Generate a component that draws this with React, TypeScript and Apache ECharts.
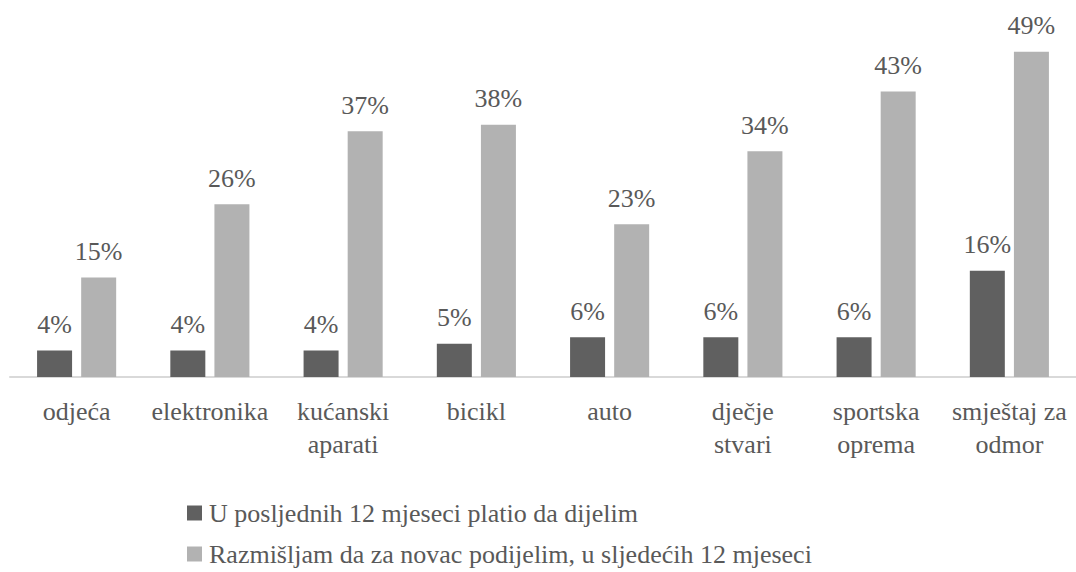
import React, { useEffect, useRef } from "react";
import * as echarts from "echarts";

const categories = [
  "odjeća",
  "elektronika",
  "kućanski\naparati",
  "bicikl",
  "auto",
  "dječje\nstvari",
  "sportska\noprema",
  "smještaj za\nodmor",
];
const seriesNames = [
  "U posljednih 12 mjeseci platio da dijelim",
  "Razmišljam da za novac podijelim, u sljedećih 12 mjeseci",
];
const paidValues = [4, 4, 4, 5, 6, 6, 6, 16];
const consideringValues = [15, 26, 37, 38, 23, 34, 43, 49];

const FONT = "Liberation Serif";
const TEXT = "#595959";
const FS = 26;

const CSS = `.serif-chart text, .serif-chart tspan { font-family: "Liberation Serif", "Times New Roman", serif !important; }`;

export default function App() {
  const ref = useRef<HTMLDivElement>(null);
  useEffect(() => {
    document.body.style.margin = "0";
    const chart = echarts.init(ref.current!, null, { renderer: "svg" });
    const label = {
      show: true,
      position: "top",
      distance: 13,
      formatter: "{c}%",
      fontFamily: FONT,
      fontSize: FS,
      color: TEXT,
    };
    const legendText = { fontFamily: FONT, fontSize: FS, color: TEXT, padding: [0, 0, 0, 2] };
    chart.setOption({
      animation: false,
      textStyle: { fontFamily: FONT, fontSize: FS },
      grid: { left: 10, right: 0, top: 45, bottom: 195, containLabel: false },
      legend: [
        {
          orient: "horizontal",
          left: 187,
          top: 500,
          padding: 0,
          itemWidth: 15,
          itemHeight: 15,
          icon: "rect",
          textStyle: legendText,
          data: [seriesNames[0]],
        },
        {
          orient: "horizontal",
          left: 187,
          top: 541,
          padding: 0,
          itemWidth: 15,
          itemHeight: 15,
          icon: "rect",
          textStyle: legendText,
          data: [seriesNames[1]],
        },
      ],
      xAxis: {
        type: "category",
        data: categories,
        axisLine: { lineStyle: { color: "#d9d9d9", width: 2 } },
        axisTick: { show: false },
        axisLabel: {
          fontFamily: FONT,
          fontSize: FS,
          color: TEXT,
          margin: 18,
          lineHeight: 33,
          interval: 0,
        },
      },
      yAxis: {
        type: "value",
        min: 0,
        max: 50,
        show: false,
        splitLine: { show: false },
      },
      series: [
        {
          name: seriesNames[0],
          type: "bar",
          data: paidValues,
          barWidth: 35,
          barGap: "26%",
          itemStyle: { color: "#606060" },
          label,
        },
        {
          name: seriesNames[1],
          type: "bar",
          data: consideringValues,
          barWidth: 35,
          itemStyle: { color: "#b2b2b2" },
          label,
        },
      ],
    });

    const applySerif = () => {
      try {
        const zr: any = chart.getZr();
        const list: any[] = zr.storage.getDisplayList(true);
        let changed = false;
        list.forEach((el: any) => {
          if (el && el.type === "tspan" && el.style) {
            const f: string = el.style.font || "";
            if (f.indexOf(FONT) === -1 || f.indexOf("sans") !== -1) {
              const m = f.match(/(\d+(\.\d+)?)px/);
              const size = m ? m[1] : String(FS);
              el.style.font = size + "px " + FONT;
              el.markRedraw && el.markRedraw();
              changed = true;
            }
          }
        });
        if (changed) zr.refresh();
      } catch (e) {
        // ignore
      }
      ref.current?.querySelectorAll("text, tspan").forEach((t) => {
        const el = t as SVGElement;
        el.setAttribute("font-family", FONT);
        el.style.setProperty("font-family", FONT, "important");
      });
    };
    applySerif();
    const raf = requestAnimationFrame(applySerif);
    const to = setTimeout(applySerif, 60);
    return () => {
      cancelAnimationFrame(raf);
      clearTimeout(to);
      chart.dispose();
    };
  }, []);
  return (
    <>
      <style>{CSS}</style>
      <div ref={ref} className="serif-chart" style={{ width: 1076, height: 572 }} />
    </>
  );
}
